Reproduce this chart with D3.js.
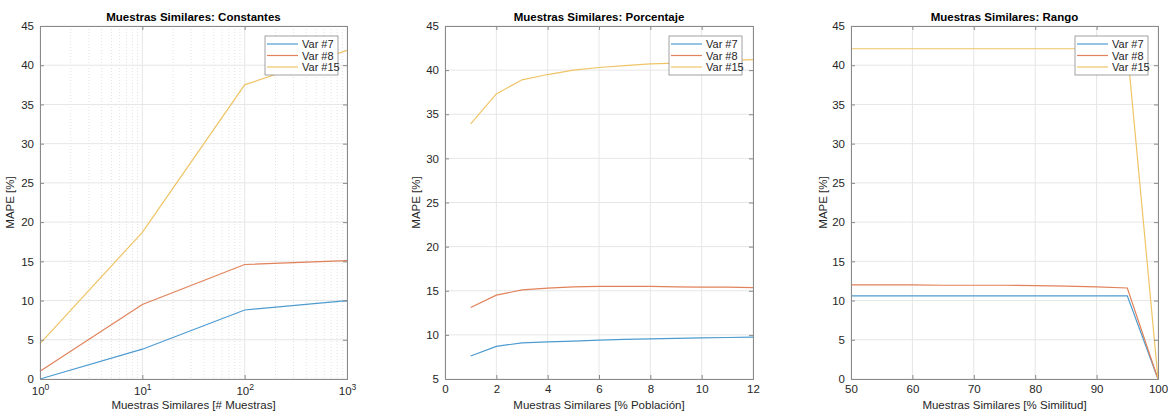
<!DOCTYPE html>
<html>
<head>
<meta charset="utf-8">
<script src="https://cdn.jsdelivr.net/npm/d3@7"></script>
<style>
  body { margin: 0; background: #fff; }
  svg { font-family: "Liberation Sans", Arial, sans-serif; }
</style>
</head>
<body>
<svg id="chart" width="1168" height="412"></svg>
<script>
// series names and colours (MATLAB default order)
const seriesNames = ["Var #7", "Var #8", "Var #15"];
const seriesColors = ["#4d9bd0", "#e0825a", "#efc466"];

// panel 1: constant number of similar samples (log x)
const constX = [1, 10, 100, 1000];
const constVar7 = [0, 3.8, 8.8, 10.0];
const constVar8 = [1.0, 9.5, 14.6, 15.1];
const constVar15 = [4.5, 18.7, 37.5, 41.9];

// panel 2: percentage of population
const pctX = [1, 2, 3, 4, 5, 6, 7, 8, 9, 10, 11, 12];
const pctVar7 = [7.6, 8.7, 9.1, 9.2, 9.3, 9.4, 9.5, 9.55, 9.6, 9.65, 9.7, 9.75];
const pctVar8 = [13.1, 14.5, 15.1, 15.3, 15.45, 15.5, 15.5, 15.5, 15.45, 15.4, 15.4, 15.35];
const pctVar15 = [33.9, 37.3, 38.9, 39.5, 40.0, 40.3, 40.5, 40.7, 40.8, 41.0, 41.1, 41.2];

// panel 3: similarity range
const rangeX = [50, 55, 60, 65, 70, 75, 80, 85, 90, 95, 100];
const rangeVar7 = [10.6, 10.6, 10.6, 10.6, 10.6, 10.6, 10.6, 10.6, 10.6, 10.6, 0];
const rangeVar8 = [12.0, 12.0, 12.0, 11.95, 11.95, 11.95, 11.9, 11.85, 11.75, 11.6, 0];
const rangeVar15 = [42.1, 42.1, 42.1, 42.1, 42.1, 42.1, 42.1, 42.1, 42.1, 42.1, 0];

const yTicks045 = [0, 5, 10, 15, 20, 25, 30, 35, 40, 45];
const yTicks545 = [5, 10, 15, 20, 25, 30, 35, 40, 45];

const panels = [
  {
    title: "Muestras Similares: Constantes",
    xLabel: "Muestras Similares [# Muestras]",
    left: 40, right: 347, ylabX: 14,
    log: true, xDomain: [1, 1000], xTicks: [1, 10, 100, 1000],
    yDomain: [0, 45], yTicks: yTicks045,
    x: constX, ys: [constVar7, constVar8, constVar15],
    legendX: 265
  },
  {
    title: "Muestras Similares: Porcentaje",
    xLabel: "Muestras Similares [% Población]",
    left: 445, right: 753, ylabX: 420,
    log: false, xDomain: [0, 12], xTicks: [0, 2, 4, 6, 8, 10, 12],
    yDomain: [5, 45], yTicks: yTicks545,
    x: pctX, ys: [pctVar7, pctVar8, pctVar15],
    legendX: 669
  },
  {
    title: "Muestras Similares: Rango",
    xLabel: "Muestras Similares [% Similitud]",
    left: 851, right: 1158, ylabX: 827,
    log: false, xDomain: [50, 100], xTicks: [50, 60, 70, 80, 90, 100],
    yDomain: [0, 45], yTicks: yTicks045,
    x: rangeX, ys: [rangeVar7, rangeVar8, rangeVar15],
    legendX: 1075
  }
];

const plotTop = 26, plotBottom = 379;
const svg = d3.select("#chart");

function drawPanel(p) {
  const w = p.right - p.left, h = plotBottom - plotTop;
  const g = svg.append("g").attr("transform", `translate(${p.left},${plotTop})`);
  const x = (p.log ? d3.scaleLog() : d3.scaleLinear()).domain(p.xDomain).range([0, w]);
  const y = d3.scaleLinear().domain(p.yDomain).range([h, 0]);

  // minor grid for log axis
  if (p.log) {
    const minor = [];
    for (let d = 1; d < 1000; d *= 10) for (let k = 2; k <= 9; k++) minor.push(d * k);
    g.append("g").selectAll("line").data(minor).join("line")
      .attr("x1", d => x(d)).attr("x2", d => x(d))
      .attr("y1", 0).attr("y2", h)
      .attr("stroke", "#e2e2e2").attr("stroke-dasharray", "1,2");
  }
  // major grid
  g.append("g").selectAll("line").data(p.xTicks).join("line")
    .attr("x1", d => x(d)).attr("x2", d => x(d)).attr("y1", 0).attr("y2", h)
    .attr("stroke", "#e6e6e6");
  g.append("g").selectAll("line").data(p.yTicks).join("line")
    .attr("x1", 0).attr("x2", w).attr("y1", d => y(d)).attr("y2", d => y(d))
    .attr("stroke", "#e6e6e6");

  // lines
  const line = d3.line().x(d => x(d[0])).y(d => y(d[1]));
  p.ys.forEach((vals, i) => {
    g.append("path")
      .datum(p.x.map((xv, j) => [xv, vals[j]]))
      .attr("d", line).attr("fill", "none")
      .attr("stroke", seriesColors[i]).attr("stroke-width", 1.2);
  });

  // axes with inward ticks
  const xAxis = d3.axisBottom(x).tickValues(p.xTicks).tickSize(-4).tickPadding(6)
    .tickFormat(p.log ? () => "" : d3.format("d"));
  const gx = g.append("g").attr("transform", `translate(0,${h})`).call(xAxis);
  g.append("g").call(d3.axisTop(x).tickValues(p.xTicks).tickSize(-4).tickFormat(""));
  g.append("g").call(d3.axisLeft(y).tickValues(p.yTicks).tickSize(-4).tickPadding(6).tickFormat(d3.format("d")));
  g.append("g").attr("transform", `translate(${w},0)`)
    .call(d3.axisRight(y).tickValues(p.yTicks).tickSize(-4).tickFormat(""));
  g.selectAll(".domain").attr("stroke", "#8a8a8a");
  g.selectAll(".tick line").attr("stroke", "#8a8a8a");
  g.selectAll(".tick text").attr("fill", "#262626").attr("font-size", 11.5)
    .attr("font-family", "Liberation Sans, Arial, sans-serif");

  if (p.log) {
    gx.selectAll(".tick").each(function(d) {
      const t = d3.select(this).append("text")
        .attr("y", 16).attr("fill", "#262626").attr("font-size", 11.5)
        .attr("text-anchor", "middle");
      t.append("tspan").text("10");
      t.append("tspan").attr("dy", -5).attr("font-size", 8.5).text(Math.round(Math.log10(d)));
    });
  }

  // title and labels
  svg.append("text").attr("x", p.left + w / 2).attr("y", 21)
    .attr("text-anchor", "middle").attr("font-weight", "bold").attr("font-size", 11.5)
    .attr("fill", "#000").text(p.title);
  svg.append("text").attr("x", p.left + w / 2).attr("y", 409)
    .attr("text-anchor", "middle").attr("font-size", 11.5).attr("fill", "#262626")
    .text(p.xLabel);
  svg.append("text").attr("transform", `translate(${p.ylabX},${plotTop + h / 2}) rotate(-90)`)
    .attr("text-anchor", "middle").attr("font-size", 11.5).attr("fill", "#262626")
    .text("MAPE [%]");

  // legend
  const lg = svg.append("g").attr("transform", `translate(${p.legendX},36)`);
  lg.append("rect").attr("width", 73).attr("height", 39)
    .attr("fill", "#fff").attr("stroke", "#8a8a8a").attr("stroke-width", 0.8);
  seriesNames.forEach((name, i) => {
    const yy = 8 + i * 11.5;
    lg.append("line").attr("x1", 2).attr("x2", 33).attr("y1", yy).attr("y2", yy)
      .attr("stroke", seriesColors[i]).attr("stroke-width", 1.2);
    lg.append("text").attr("x", 37).attr("y", yy + 4).attr("font-size", 11)
      .attr("fill", "#262626").text(name);
  });
}

panels.forEach(drawPanel);
</script>
</body>
</html>
